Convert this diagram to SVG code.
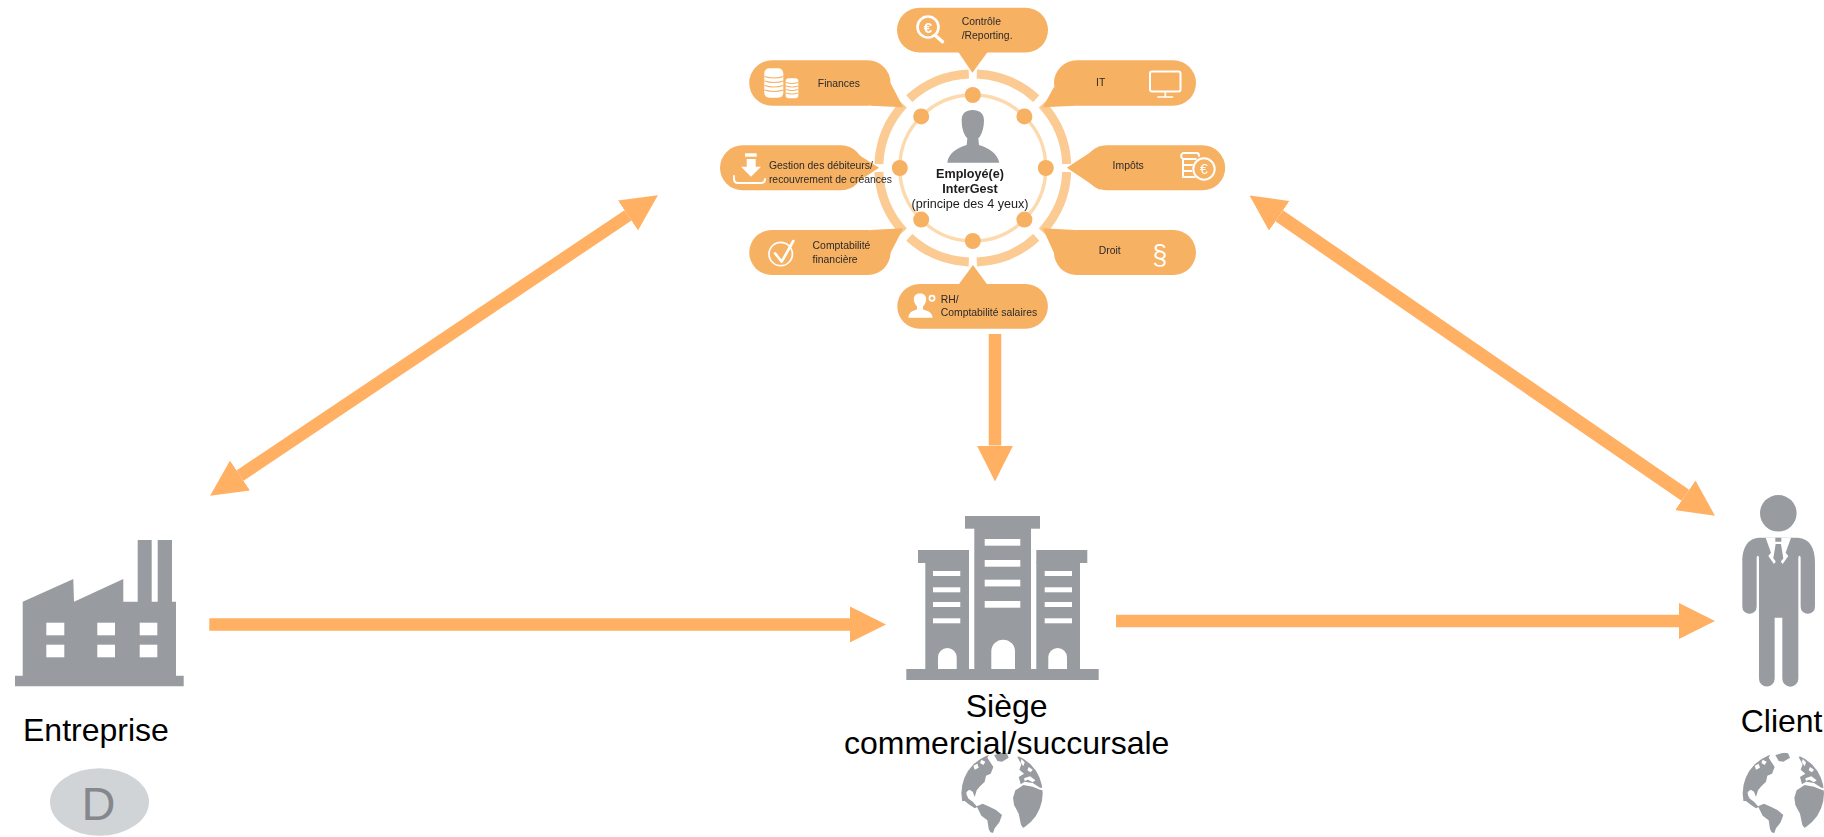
<svg xmlns="http://www.w3.org/2000/svg" xmlns:xlink="http://www.w3.org/1999/xlink" width="1824" height="837" viewBox="0 0 1824 837">
<style>
text{font-family:"Liberation Sans",Arial,sans-serif}
.big{font-size:32px;fill:#000}
.small{font-size:10.4px;fill:#2a2a2a}
.hubt{font-size:12.6px;fill:#1c1c1c;text-anchor:middle}
.grey{fill:#989ca1}
.hole{fill:#fff}
.call{fill:#f7b163}
.dot{fill:#f7b163}
.ico{fill:none;stroke:#fff;stroke-width:1.7;stroke-linecap:round;stroke-linejoin:round}
.icof{fill:#fff}
.conn{stroke:#ffb062;stroke-width:12.500;fill:none}
.ctr{text-anchor:middle}
</style>
<defs>
<marker id="head" markerUnits="userSpaceOnUse" markerWidth="36" markerHeight="36" refX="0" refY="18" viewBox="0 0 36 36" orient="auto-start-reverse">
<path d="M0,0L36,18L0,36Z" fill="#ffb062"/>
</marker>
<filter id="soft" x="-5%" y="-5%" width="110%" height="110%"><feGaussianBlur stdDeviation="0.6"/></filter>
<clipPath id="disc"><circle cx="148" cy="145" r="122"/></clipPath>
<g id="globe">
<g clip-path="url(#disc)">
<path class="grey" d="M78,30L112,24L104,38L122,66L114,86L100,92L96,110L82,124L72,136L66,156L60,140L50,134L42,140L46,160L60,170L74,186L66,190L48,178L36,168L0,170V60Z"/>
<path class="hole" d="M62,62L74,56L78,68L66,74ZM86,44L98,50L92,60L82,54ZM40,142L48,146L44,156Z"/>
<path class="grey" d="M124,30L160,20L168,38L148,50L134,48Z"/>
<path class="grey" d="M72,184L90,176L112,186L130,195L148,210L140,232L126,250L118,272L108,252L104,226L86,212Z"/>
<path class="grey" d="M188,136L212,120L240,125L262,134L290,140V170L262,190L240,238L214,252L205,240L198,206L184,180L181,158Z"/>
<path class="grey" d="M194,36L206,30L290,60V132L262,128L240,114L216,110L204,118L198,96L214,86L200,74L206,58Z"/>
<path class="hole" d="M214,100L232,94L248,106L240,112L226,104L216,108ZM206,42L216,52L212,64L204,52ZM228,66L240,74L234,82L224,76Z"/>
</g>
</g>
</defs>

<g id="connectors">
<line class="conn" x1="240" y1="475.600" x2="628" y2="215.400" marker-start="url(#head)" marker-end="url(#head)"/>
<line class="conn" x1="1279.200" y1="215.800" x2="1685.300" y2="495.300" stroke-width="13.500" style="stroke-width:13.500px" marker-start="url(#head)" marker-end="url(#head)"/>
<line class="conn" x1="995" y1="334" x2="995" y2="445.600" marker-end="url(#head)"/>
<line class="conn" x1="209.300" y1="624.400" x2="850" y2="624.400" marker-end="url(#head)"/>
<line class="conn" x1="1116" y1="621" x2="1679" y2="621" marker-end="url(#head)"/>
</g>

<g id="hub" filter="url(#soft)">
<circle cx="972.800" cy="168" r="94" fill="none" stroke="#fbcb93" stroke-width="9" pathLength="360" stroke-dasharray="40 5" stroke-dashoffset="42.500"/>
<circle cx="972.800" cy="168" r="73" fill="none" stroke="#fdd9ae" stroke-width="3.400"/>

<g id="employee">
<path class="grey" transform="translate(860,70) scale(0.3333)" d="M262,278C265,250 290,235 320,225L322,205C312,195 305,175 305,150C305,130 318,120 338,120C358,120 372,130 372,150C372,175 365,195 355,205L357,225C387,235 412,250 418,278Z"/>
<text class="hubt" x="970" y="177.700" font-weight="bold">Employé(e)</text>
<text class="hubt" x="970" y="193.300" font-weight="bold">InterGest</text>
<text class="hubt" x="970" y="208.300">(principe des 4 yeux)</text>
</g>
<g id="dots" class="dot">
<circle cx="972.800" cy="95" r="8"/><circle cx="1024.400" cy="116.400" r="8"/><circle cx="1045.800" cy="168" r="8"/><circle cx="1024.400" cy="219.600" r="8"/>
<circle cx="972.800" cy="241" r="8"/><circle cx="921.200" cy="219.600" r="8"/><circle cx="899.800" cy="168" r="8"/><circle cx="921.200" cy="116.400" r="8"/>
</g>

<g id="controle">
<rect class="call" x="897" y="7.700" width="151" height="44.800" rx="22.400"/>
<polygon class="call" points="958.300,52 987.600,52 972.400,72.700"/>
<circle class="ico" cx="928" cy="27" r="10.500" style="stroke-width:2.600px"/>
<path class="ico" d="M936,36L942.500,41.700" style="stroke-width:3.500px"/>
<text class="icof" x="928" y="32.500" font-size="15" font-weight="bold" text-anchor="middle">€</text>
<text class="small" x="961.700" y="25.300">Contrôle</text>
<text class="small" x="961.700" y="38.700">/Reporting.</text>
</g>

<g id="finances">
<rect class="call" x="749.200" y="60.300" width="141.300" height="45.400" rx="22.700"/>
<polygon class="call" points="890.500,83 870.500,105.700 903.200,107.300"/>
<rect class="icof" x="764.300" y="68.300" width="19" height="29.400" rx="5"/>
<rect class="icof" x="785.700" y="78.300" width="12.600" height="20" rx="3"/>
<path d="M764.500,76.500q9.500,3 19,0M764.500,81q9.500,3 19,0M764.500,85.500q9.500,3 19,0M764.500,90q9.500,3 19,0M786,82.500q6,2 12,0M786,86q6,2 12,0M786,89.500q6,2 12,0M786,93q6,2 12,0" fill="none" stroke="#f7b163" stroke-width="1.100"/>
<text class="small" x="817.800" y="87">Finances</text>
</g>

<g id="it">
<rect class="call" x="1054" y="60.300" width="142" height="45.400" rx="22.700"/>
<polygon class="call" points="1054,87 1075.400,105.700 1042.700,107.300"/>
<rect class="ico" x="1150" y="71.500" width="30.500" height="20" rx="2" style="stroke-width:2px"/>
<path class="ico" d="M1165.300,92V96M1158,97H1172.500"/>
<text class="small" x="1096" y="85.700">IT</text>
</g>

<g id="debiteurs">
<rect class="call" x="720" y="145.300" width="143.600" height="45" rx="22.500"/>
<polygon class="call" points="845,146 845,190 879,167.700"/>
<rect class="icof" x="745" y="153.300" width="11.700" height="3.400"/>
<path class="icof" d="M746.700,159H755.700V166.700H761L751,176.700L741,166.700H746.700Z"/>
<path class="ico" d="M734,176V179Q734,183 738,183H761Q765,183 765,179" style="stroke-width:2px"/>
<text class="small" x="768.900" y="169">Gestion des débiteurs/</text>
<text class="small" x="768.900" y="182.700">recouvrement de créances</text>
</g>

<g id="impots">
<rect class="call" x="1084" y="145.300" width="141.200" height="45" rx="22.500"/>
<polygon class="call" points="1100,146 1100,190 1066.800,167.700"/>
<path class="ico" d="M1183,153H1197Q1199,153 1199,156M1183,153Q1179,156 1183,159H1196M1183,159V165M1183,165H1195M1183,165V171M1183,171H1195M1183,171V177M1183,177H1196" style="stroke-width:2px"/>
<circle class="call" cx="1204" cy="169" r="12"/>
<circle class="ico" cx="1204" cy="169" r="10.700" style="stroke-width:2px"/>
<text class="icof" x="1204" y="174" font-size="14" text-anchor="middle">€</text>
<text class="small" x="1112.600" y="169">Impôts</text>
</g>

<g id="comptabilite">
<rect class="call" x="749.200" y="230" width="141.300" height="45" rx="22.500"/>
<polygon class="call" points="870.500,230 890.500,253 903.200,228.300"/>
<circle class="ico" cx="780.700" cy="254" r="11.700"/>
<polyline class="ico" points="775,253.300 781.700,261.700 793.300,241" style="stroke-width:2.600px"/>
<text class="small" x="812.600" y="249.300">Comptabilité</text>
<text class="small" x="812.600" y="263.300">financière</text>
</g>

<g id="droit">
<rect class="call" x="1054" y="230" width="142" height="45" rx="22.500"/>
<polygon class="call" points="1075.400,230 1054,253 1042.700,228.300"/>
<text class="icof" x="1159.800" y="264" font-size="27" text-anchor="middle">§</text>
<text class="small" x="1098.800" y="254.300">Droit</text>
</g>

<g id="rh">
<rect class="call" x="897.300" y="284" width="150.600" height="44.700" rx="22.300"/>
<polygon class="call" points="958.300,285 987.600,285 973,265"/>
<path class="icof" d="M908.300,317.700C909,312 913,310.500 917,309.500V306.500C914.500,304 913.800,301 913.800,299C913.800,295.500 916.500,293.500 920,293.500C923.500,293.500 926.200,295.500 926.200,299C926.200,301 925.500,304 923,306.500V309.500C927,310.500 932,312 932.700,317.700Z"/>
<circle class="ico" cx="932" cy="298.300" r="2.600"/>
<text class="small" x="940.700" y="302.700">RH/</text>
<text class="small" x="940.700" y="315.700">Comptabilité salaires</text>
</g>
</g>

<g id="entreprise">
<path class="grey" d="M15,675.700H22.700V601.700L73.300,579L74,601.700L123.300,579V601.700H137.700V540H151.700V601.700H157.700V540H172V601.700H176V675.700H183.700V686.300H15Z"/>
<g class="hole">
<rect x="46.300" y="622.700" width="18" height="12.600"/><rect x="97.300" y="622.700" width="17.700" height="12.600"/><rect x="139.700" y="622.700" width="17.600" height="12.600"/>
<rect x="46.300" y="644.700" width="18" height="12.600"/><rect x="97.300" y="644.700" width="17.700" height="12.600"/><rect x="139.700" y="644.700" width="17.600" height="12.600"/>
</g>
<text class="big" x="23" y="740.700">Entreprise</text>
<ellipse cx="99.500" cy="802" rx="49.500" ry="33.700" fill="#d1d4d7"/>
<text x="98.500" y="820" font-size="47" fill="#84888c" text-anchor="middle">D</text>
</g>

<g id="siege">
<g class="grey">
<rect x="906.300" y="669" width="192.400" height="11"/>
<rect x="965" y="516" width="75" height="12.700"/><rect x="974.300" y="528" width="56.700" height="142"/>
<rect x="918" y="550" width="51" height="13"/><rect x="925.300" y="562" width="43.700" height="108"/>
<rect x="1036.300" y="550" width="51" height="13"/><rect x="1036.300" y="562" width="43.700" height="108"/>
</g>
<g class="hole">
<rect x="984.700" y="539" width="35.600" height="6.700"/><rect x="984.700" y="560" width="35.600" height="6.700"/><rect x="984.700" y="579.700" width="35.600" height="6.700"/><rect x="984.700" y="601" width="35.600" height="6.700"/>
<rect x="933" y="571" width="27.300" height="5"/><rect x="933" y="587.300" width="27.300" height="5"/><rect x="933" y="602" width="27.300" height="5"/><rect x="933" y="618.300" width="27.300" height="5"/>
<rect x="1044.700" y="571" width="27.300" height="5"/><rect x="1044.700" y="587.300" width="27.300" height="5"/><rect x="1044.700" y="602" width="27.300" height="5"/><rect x="1044.700" y="618.300" width="27.300" height="5"/>
<path d="M991.300,669V651.500A11.850,11.850 0 0 1 1015,651.500V669Z"/>
<path d="M938,669V657.300A9.350,9.350 0 0 1 956.700,657.300V669Z"/>
<path d="M1048.300,669V657.300A9.350,9.350 0 0 1 1067,657.300V669Z"/>
</g>
<use xlink:href="#globe" href="#globe" transform="translate(952.700,745) scale(0.3333)"/>
<text class="big ctr" x="1006.700" y="716.700">Siège</text>
<text class="big ctr" x="1006.700" y="754">commercial/succursale</text>
</g>

<g id="client">
<circle class="grey" cx="1778.300" cy="513.300" r="18.300"/>
<g transform="translate(1644,470) scale(0.3333)">
<path class="grey" d="M368,203H345C310,205 295,235 295,275V410A21.500,21.500 0 0 0 338,410V265C338,255 345,255 345,265V626A23.500,23.500 0 0 0 392,626V443H415V626A24,24 0 0 0 463,626V265C463,255 470,255 470,265V410A21.500,21.500 0 0 0 513,410V275C513,235 497,205 462,203H438Z"/>
<path class="hole" d="M365,203L381,248L373,258L390,282L403,265L416,282L433,258L425,248L441,203Z"/>
<path class="grey" d="M394,203H412V215H394ZM395,222H411L418,265L403,285L388,265Z"/>
</g>
<text class="big" x="1740.700" y="731.700">Client</text>
<use xlink:href="#globe" href="#globe" transform="translate(1734,745) scale(0.3333)"/>
</g>
</svg>
